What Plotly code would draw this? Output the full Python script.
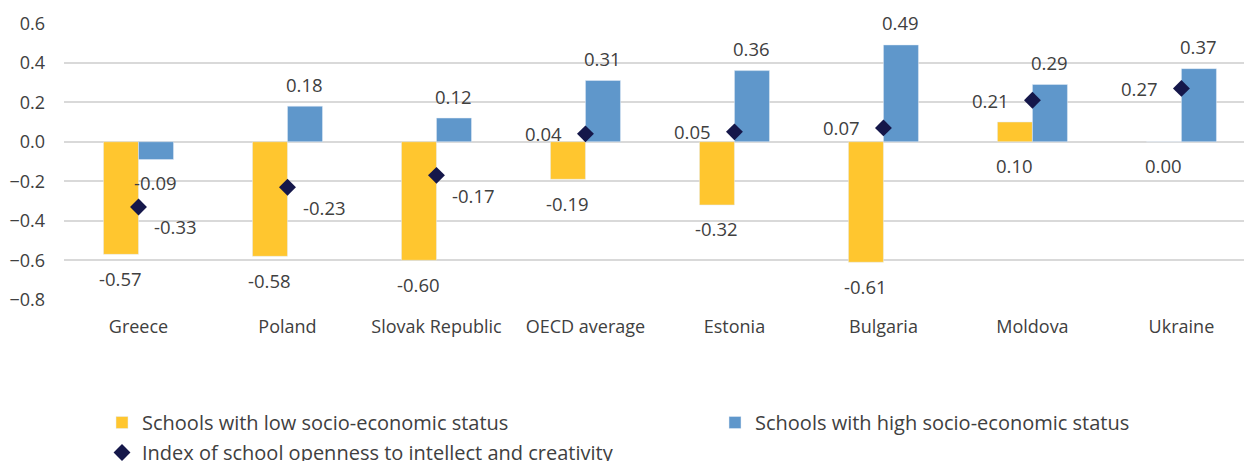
import plotly.graph_objects as go

categories = ["Greece", "Poland", "Slovak Republic", "OECD average", "Estonia", "Bulgaria", "Moldova", "Ukraine"]
low_ses = [-0.57, -0.58, -0.60, -0.19, -0.32, -0.61, 0.10, 0.00]
high_ses = [-0.09, 0.18, 0.12, 0.31, 0.36, 0.49, 0.29, 0.37]
index_openness = [-0.33, -0.23, -0.17, 0.04, 0.05, 0.07, 0.21, 0.27]

names = ["Schools with low socio-economic status",
         "Schools with high socio-economic status",
         "Index of school openness to intellect and creativity"]

YELLOW = "#FFC62F"
BLUE = "#5F97CB"
NAVY = "#15174A"
LABEL_COLOR = "#404040"
FONT = "Open Sans"

fig = go.Figure()
fig.add_trace(go.Bar(x=categories, y=low_ses, name=names[0], marker_color=YELLOW,
                     legend="legend", legendgroup="a"))
fig.add_trace(go.Bar(x=categories, y=high_ses, name=names[1], marker_color=BLUE,
                     legend="legend2", legendgroup="b"))
fig.add_trace(go.Scatter(x=categories, y=index_openness, name=names[2], mode="markers",
                         marker=dict(symbol="diamond", size=13, color=NAVY),
                         legend="legend", legendgroup="c"))

LBL = 18.5
annotations = []
for c, v in zip(categories, low_ses):
    annotations.append(dict(x=c, y=min(v, 0), text=f"{v:.2f}", showarrow=False, xshift=-17.5,
                            yshift=-24, font=dict(size=LBL, color=LABEL_COLOR, family=FONT)))
for c, v in zip(categories, high_ses):
    annotations.append(dict(x=c, y=v, text=f"{v:.2f}", showarrow=False, xshift=17.5,
                            yshift=22 if v >= 0 else -23, font=dict(size=LBL, color=LABEL_COLOR, family=FONT)))
for c, v in zip(categories, index_openness):
    if v < 0:
        xs, ys = 37, -20
    else:
        xs, ys = -42, 0
    annotations.append(dict(x=c, y=v, text=f"{v:.2f}", showarrow=False, xshift=xs, yshift=ys,
                            font=dict(size=LBL, color=LABEL_COLOR, family=FONT)))

legend_font = dict(size=20, color="#404040", family=FONT)
fig.update_layout(
    width=1244, height=461,
    margin=dict(l=64, r=0, t=23, b=161, autoexpand=False),
    paper_bgcolor="white", plot_bgcolor="white",
    barmode="group", bargap=0.53, bargroupgap=0,
    font=dict(family=FONT, size=17, color="#595959"),
    annotations=annotations,
    showlegend=True,
    legend=dict(orientation="v", xref="container", yref="container", x=102 / 1244, y=(461 - 403) / 461,
                xanchor="left", yanchor="top", font=legend_font, itemwidth=30,
                tracegroupgap=1, traceorder="grouped", bgcolor="rgba(0,0,0,0)"),
    legend2=dict(orientation="v", xref="container", yref="container", x=715 / 1244, y=(461 - 403) / 461,
                 xanchor="left", yanchor="top", font=legend_font, itemwidth=30,
                 bgcolor="rgba(0,0,0,0)"),
)
fig.update_xaxes(range=[-0.5, 7.42], showgrid=False, showline=False, ticks="",
                 ticklabelstandoff=14, tickfont=dict(size=18, color="#404040"))
fig.update_yaxes(range=[-0.801, 0.601], dtick=0.2, tick0=0, tickformat=".1f",
                 showgrid=True, gridcolor="#D9D9D9", gridwidth=1.5,
                 zeroline=False, showline=False, ticklabelstandoff=18,
                 tickfont=dict(size=18, color="#404040"))

fig.write_html("out.html")
